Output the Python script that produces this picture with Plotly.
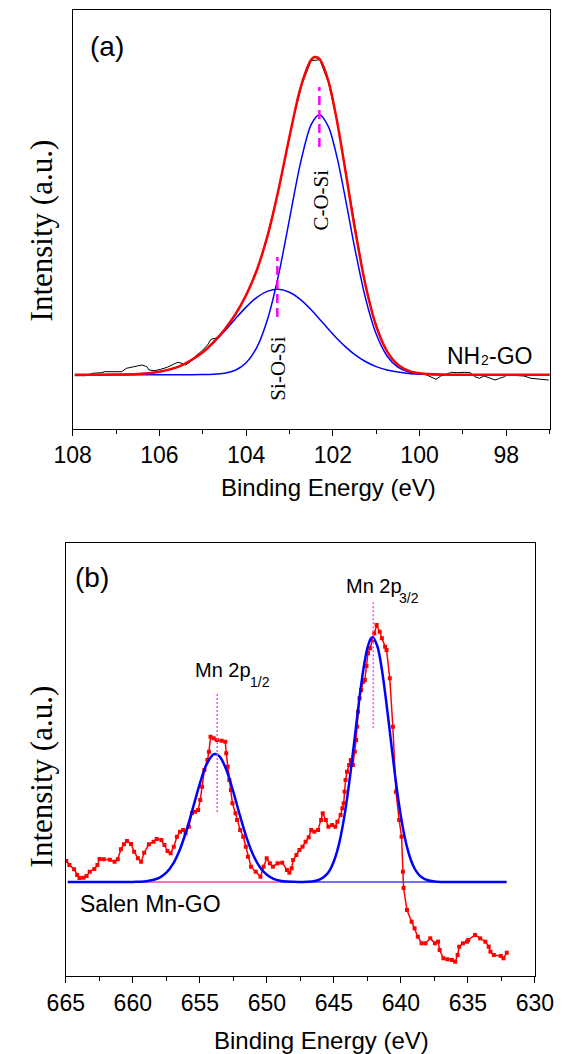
import plotly.graph_objects as go

W, H = 573, 1054

# ---------------- (a) Si 2p, NH2-GO ----------------
a_raw_be = [107.95, 107.91, 107.69, 107.55, 107.33, 107.26, 107.05, 106.87, 106.76, 106.61,
            106.51, 106.40, 106.29, 106.24, 106.11, 105.97, 105.82, 105.68, 105.57, 105.48,
            105.39, 105.29, 105.18, 105.04, 104.89, 104.81, 104.71, 104.60, 104.46, 104.30,
            104.10, 103.90, 103.70, 103.50, 103.30, 103.10, 102.90, 102.70, 102.50, 102.30,
            102.10, 101.90, 101.70, 101.50, 101.30, 101.10, 100.90, 100.70, 100.50, 100.30,
            100.10, 99.87, 99.73, 99.62, 99.51, 99.39, 99.26, 99.12, 98.97, 98.83,
            98.72, 98.62, 98.51, 98.40, 98.26, 98.15, 98.04, 97.98, 97.80, 97.59,
            97.43, 97.20, 97.02]
a_raw_int = [-1.0, -1.0, -1.0, 1.4, 2.0, 3.0, 2.7, 3.0, 6.4, 7.4,
             8.7, 9.7, 8.0, 4.7, 4.0, 5.4, 7.4, 10.4, 12.4, 11.4,
             9.7, 13.0, 18.0, 23.0, 29.7, 35.4, 36.4, 39.7, 44.7, 57.0,
             72.0, 89.0, 111.0, 141.0, 176.0, 216.0, 258.0, 292.0, 314.0, 315.0,
             292.0, 253.0, 201.0, 149.0, 101.0, 63.0, 36.0, 20.0, 10.0, 5.0,
             2.0, 0.4, -2.6, -4.6, -1.3, 0.7, 2.4, 2.0, 2.4, 2.0,
             -2.0, -3.6, -1.3, -3.0, -5.3, -3.6, -2.0, -0.3, -0.5, -1.3,
             -3.6, -4.5, -5.3]

a_fit_be = [107.95, 107.0, 106.5, 106.0, 105.5, 105.0, 104.75, 104.5, 104.25, 104.0,
            103.75, 103.5, 103.25, 103.0, 102.75, 102.5, 102.31, 102.1, 101.9, 101.7,
            101.5, 101.25, 101.0, 100.75, 100.5, 100.25, 100.0, 99.5, 99.0, 98.0, 97.0]
a_cosi = [0.0, 0.0, 0.0, 0.0, 0.0, 0.1, 0.4, 1.5, 4.4, 11.9,
          27.6, 56.2, 100.0, 155.4, 210.9, 250.0, 260.0, 247.9, 216.8, 173.9,
          127.9, 77.1, 40.6, 18.7, 7.5, 2.6, 0.8, 0.0, 0.0, 0.0, 0.0]
a_siosi = [0.0, 0.2, 0.8, 3.0, 9.1, 22.3, 32.1, 43.5, 55.8, 67.6,
           77.4, 83.6, 85.5, 82.5, 75.3, 64.9, 55.8, 45.5, 36.0, 27.6,
           20.3, 13.2, 8.1, 4.7, 2.6, 1.3, 0.7, 0.1, 0.0, 0.0, 0.0]

a_env_be = [107.95, 107.0, 106.5, 106.0, 105.5, 105.0, 104.75, 104.5, 104.25, 104.0,
            103.75, 103.5, 103.25, 103.0, 102.75, 102.5, 102.42, 102.31, 102.1, 101.9,
            101.7, 101.5, 101.25, 101.0, 100.75, 100.5, 100.25, 100.0, 99.5, 99.0, 98.0, 97.0]
a_envelope = [0.0, 0.2, 0.8, 3.0, 9.1, 22.4, 32.5, 45.0, 60.2, 79.5,
              105.0, 139.8, 185.5, 237.9, 286.2, 314.9, 317.7, 315.8, 293.4, 252.8,
              201.5, 148.2, 90.3, 48.7, 23.4, 10.1, 3.9, 1.5, 0.1, 0.0, 0.0, 0.0]

a_peak_names = ["C-O-Si", "Si-O-Si"]
a_peak_be = [102.31, 103.28]
a_mark_lo = [227.7, 57.7]
a_mark_hi = [287.7, 117.7]

# ---------------- (b) Mn 2p, Salen Mn-GO ----------------
b_raw_be = [664.96, 664.73, 664.38, 664.15, 663.98, 663.68, 663.45, 663.21, 662.87, 662.64,
            662.48, 662.17, 661.71, 661.36, 661.12, 660.89, 660.66, 660.43, 660.13, 659.90,
            659.62, 659.38, 659.15, 658.80, 658.45, 658.22, 657.87, 657.64, 657.41, 657.18,
            656.94, 656.71, 656.48, 656.24, 656.06, 655.82, 655.59, 655.36, 655.13, 654.97,
            654.83, 654.66, 654.43, 654.32, 654.20, 653.97, 653.73, 653.38, 653.10, 653.03,
            652.92, 652.80, 652.68, 652.57, 652.34, 652.22, 651.99, 651.76, 651.57, 651.41,
            651.18, 650.83, 650.48, 650.24, 650.01, 649.78, 649.55, 649.20, 648.85, 648.50,
            648.32, 648.15, 648.04, 647.80, 647.57, 647.34, 647.11, 646.88, 646.69, 646.46,
            646.18, 645.95, 645.83, 645.60, 645.41, 645.13, 644.90, 644.74, 644.50, 644.37,
            644.27, 644.20, 644.13, 644.02, 643.86, 643.74, 643.58, 643.44, 643.34, 643.27,
            643.20, 643.09, 642.97, 642.81, 642.69, 642.57, 642.46, 642.29, 642.11, 641.99,
            641.81, 641.58, 641.42, 641.18, 641.07, 640.83, 640.60, 640.37, 640.13, 639.95,
            639.85, 639.80, 639.55, 639.20, 638.98, 638.74, 638.46, 638.16, 637.81, 637.46,
            637.23, 637.11, 636.83, 636.53, 636.19, 635.95, 635.77, 635.65, 635.37, 635.07,
            634.98, 634.47, 634.09, 633.70, 633.45, 633.32, 633.07, 632.55, 632.35, 632.10]
b_raw_int = [21.0, 17.0, 12.7, 7.0, 4.0, 4.3, 6.0, 10.3, 13.0, 17.0,
             23.0, 22.7, 22.3, 20.3, 22.7, 32.7, 37.7, 41.0, 38.0, 30.3,
             23.7, 20.3, 29.3, 37.7, 40.3, 43.0, 42.0, 37.0, 31.0, 28.7,
             35.3, 45.3, 50.3, 52.0, 48.7, 55.3, 68.7, 70.3, 72.0, 82.0,
             95.3, 112.0, 122.0, 130.3, 145.3, 143.7, 142.0, 141.3, 140.3, 128.7,
             115.3, 102.0, 92.0, 78.7, 68.7, 62.0, 52.0, 45.3, 35.3, 25.3,
             15.3, 10.3, 5.3, 15.3, 23.7, 18.7, 15.3, 18.7, 19.3, 12.0,
             9.3, 13.7, 22.0, 27.0, 32.0, 35.3, 40.3, 44.7, 52.0, 50.3,
             52.0, 62.0, 68.7, 62.0, 55.3, 57.0, 55.3, 60.3, 67.0, 73.7,
             78.7, 90.3, 102.0, 110.3, 117.0, 122.0, 117.0, 130.3, 142.0, 155.3,
             170.3, 183.7, 192.0, 200.3, 202.0, 216.0, 228.7, 233.7, 242.0, 248.7,
             257.0, 250.3, 243.7, 235.3, 232.0, 203.7, 155.3, 90.3, 62.0, 45.3,
             10.3, -6.0, -28.0, -39.7, -46.3, -54.7, -61.3, -61.3, -56.3, -61.3,
             -59.7, -68.0, -76.3, -77.3, -78.0, -79.7, -73.0, -64.7, -61.3, -59.7,
             -58.0, -53.0, -56.3, -59.7, -64.7, -69.7, -73.0, -74.0, -76.3, -70.7]

b_fit_be = [664.85, 662.0, 660.0, 659.0, 658.0, 657.5, 657.0, 656.5, 656.0, 655.5,
            655.0, 654.5, 654.0, 653.84, 653.5, 653.0, 652.5, 652.0, 651.5, 651.0,
            650.5, 650.0, 649.5, 649.0, 648.5, 648.0, 647.5, 647.0, 646.5, 646.0,
            645.5, 645.25, 645.0, 644.75, 644.5, 644.25, 644.0, 643.75, 643.5, 643.25,
            643.0, 642.75, 642.5, 642.25, 642.11, 641.75, 641.5, 641.25, 641.0, 640.75,
            640.5, 640.25, 640.0, 639.75, 639.5, 639.25, 639.0, 638.75, 638.5, 638.0,
            637.5, 637.0, 636.0, 634.0, 632.12]
b_fit = [0.0, 0.0, 0.1, 0.7, 4.4, 9.3, 18.2, 32.1, 51.5, 74.7,
         98.4, 117.6, 127.4, 128.0, 125.1, 111.5, 90.1, 66.1, 43.9, 26.5,
         14.5, 7.2, 3.2, 1.3, 0.5, 0.2, 0.0, 0.2, 0.8, 2.8,
         8.2, 13.2, 20.7, 31.1, 45.1, 63.1, 85.1, 110.4, 138.2, 166.6,
         193.6, 216.8, 233.9, 243.3, 244.7, 235.5, 219.2, 196.6, 169.9, 141.6,
         113.7, 87.9, 65.6, 47.1, 32.6, 21.8, 14.0, 8.7, 5.2, 1.7,
         0.5, 0.1, 0.0, 0.0, 0.0]

b_base_left = [664.85, 649.0]
b_base_right = [649.0, 632.12]

b_peak_main = ["Mn 2p", "Mn 2p"]
b_peak_sub = ["1/2", "3/2"]
b_peak_be = [653.70, 642.06]
b_mark_lo = [70.0, 153.7]
b_mark_hi = [189.3, 280.3]

SANS = "Liberation Sans, Arial, sans-serif"
SERIF = "Liberation Serif, Times New Roman, serif"


def px(x):
    return x / W


def py(y):
    return 1 - y / H


fig = go.Figure()

# panel (a) traces
fig.add_trace(go.Scatter(x=a_raw_be, y=a_raw_int, mode="lines",
                         line=dict(color="black", width=1), xaxis="x", yaxis="y"))
fig.add_trace(go.Scatter(x=a_fit_be, y=a_siosi, mode="lines", line_shape="spline",
                         line=dict(color="#0000ff", width=1.5, smoothing=0.8), xaxis="x", yaxis="y"))
fig.add_trace(go.Scatter(x=a_fit_be, y=a_cosi, mode="lines", line_shape="spline",
                         line=dict(color="#0000ff", width=1.5, smoothing=0.8), xaxis="x", yaxis="y"))
fig.add_trace(go.Scatter(x=a_env_be, y=a_envelope, mode="lines", line_shape="spline",
                         line=dict(color="#ff0000", width=2.5, smoothing=0.8), xaxis="x", yaxis="y"))
for be, lo, hi in zip(a_peak_be, a_mark_lo, a_mark_hi):
    fig.add_trace(go.Scatter(x=[be, be], y=[lo, hi], mode="lines",
                             line=dict(color="#ff00ff", width=2.5, dash="9px,5px"),
                             xaxis="x", yaxis="y"))

# panel (b) traces
fig.add_trace(go.Scatter(x=b_base_left, y=[0, 0], mode="lines",
                         line=dict(color="#ff3fa0", width=1.5), xaxis="x2", yaxis="y2"))
fig.add_trace(go.Scatter(x=b_base_right, y=[0, 0], mode="lines",
                         line=dict(color="#3f3fff", width=1.5), xaxis="x2", yaxis="y2"))
fig.add_trace(go.Scatter(x=b_raw_be, y=b_raw_int, mode="lines+markers",
                         line=dict(color="#ff0000", width=1.5),
                         marker=dict(symbol="square", size=4, color="#ff0000"),
                         xaxis="x2", yaxis="y2"))
fig.add_trace(go.Scatter(x=b_fit_be, y=b_fit, mode="lines", line_shape="spline",
                         line=dict(color="#0000ff", width=2.5, smoothing=0.8),
                         xaxis="x2", yaxis="y2"))
for be, lo, hi in zip(b_peak_be, b_mark_lo, b_mark_hi):
    fig.add_trace(go.Scatter(x=[be, be], y=[lo, hi], mode="lines",
                             line=dict(color="#ff44ff", width=1.5, dash="2px,2px"),
                             xaxis="x2", yaxis="y2"))

frame = dict(showline=True, linecolor="black", linewidth=1.3, mirror=True,
             showgrid=False, zeroline=False)
xcommon = dict(frame, ticks="outside", ticklen=6, tickwidth=1.3, tickcolor="black",
               tickfont=dict(family=SANS, size=23, color="black"))
ycommon = dict(frame, ticks="", showticklabels=False, tickmode="array", tickvals=[])

fig.update_layout(
    width=W, height=H,
    margin=dict(l=0, r=0, t=0, b=0),
    paper_bgcolor="white", plot_bgcolor="white",
    showlegend=False,
    xaxis=dict(xcommon, domain=[px(57.5), px(568.3)], range=[108, 97], dtick=2, anchor="y",
               minor=dict(dtick=1, ticks="outside", ticklen=4, tickwidth=1.3, tickcolor="black")),
    yaxis=dict(ycommon, domain=[py(428.7), py(10)], range=[-54, 364.7], anchor="x"),
    xaxis2=dict(xcommon, domain=[px(50.1), px(552.6)], range=[665, 630], dtick=5, anchor="y2",
                minor=dict(dtick=2.5, ticks="outside", ticklen=4, tickwidth=1.3, tickcolor="black")),
    yaxis2=dict(ycommon, domain=[py(976), py(543.3)], range=[-94, 338.7], anchor="x2"),
)

ann = []


def text(x, y, s, size, family=SANS, angle=0, xanchor="center", yanchor="middle"):
    ann.append(dict(x=px(x), y=py(y), xref="paper", yref="paper", text=s, showarrow=False,
                    textangle=angle, xanchor=xanchor, yanchor=yanchor, borderpad=0,
                    font=dict(family=family, size=size, color="black")))


# panel (a) labels
text(75, 46.5, "(a)", 28, xanchor="left")
text(323, 200, a_peak_names[0], 21, family=SERIF, angle=-90)
text(277, 369, a_peak_names[1], 21, family=SERIF, angle=-90)
text(457.5, 356, "NH", 23, xanchor="left")
text(493.5, 360, "2", 14, xanchor="left")
text(502.5, 356, "-GO", 23, xanchor="left")
text(24, 230, "Intensity (a.u.)", 31, family=SERIF, angle=-90)
text(331.5, 487, "Binding Energy (eV)", 24)

# panel (b) labels
text(58.5, 577.5, "(b)", 28, xanchor="left")
text(349, 586, b_peak_main[1], 20, xanchor="left")
text(406, 598, b_peak_sub[1], 14, xanchor="left")
text(187, 670, b_peak_main[0], 20, xanchor="left")
text(246, 682, b_peak_sub[0], 14, xanchor="left")
text(64, 904, "Salen Mn-GO", 23, xanchor="left")
text(24, 776, "Intensity (a.u.)", 31, family=SERIF, angle=-90)
text(323.5, 1040, "Binding Energy (eV)", 24)

fig.update_layout(annotations=ann)

fig.write_html("out.html")
